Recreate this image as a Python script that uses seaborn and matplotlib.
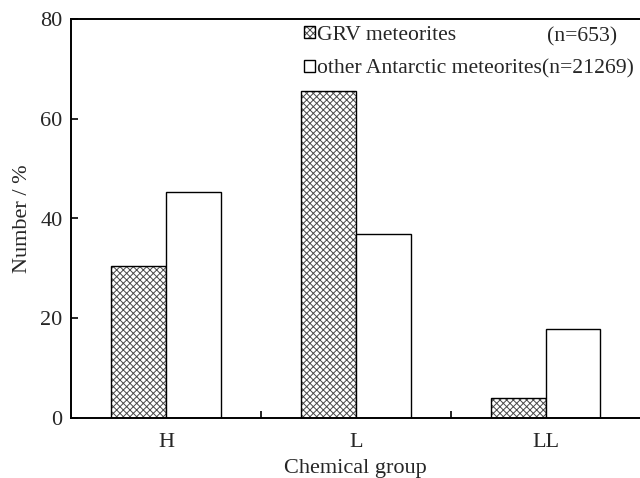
import matplotlib
matplotlib.use("Agg")
import matplotlib.pyplot as plt
import matplotlib.colors as mcolors
from matplotlib.patches import Patch
from matplotlib.ticker import FixedLocator
import seaborn as sns
import pandas as pd

groups = ["H", "L", "LL"]
series = ["GRV meteorites", "other Antarctic meteorites(n=21269)"]
grv_values = [30.5, 65.5, 4.1]
other_values = [45.3, 36.9, 17.8]
yticks = [0, 20, 40, 60, 80]

df = pd.DataFrame({
    "group": groups * 2,
    "series": [series[0]] * 3 + [series[1]] * 3,
    "value": grv_values + other_values,
})

FS = 16
LFS = 15.6
sns.set_theme(style="ticks")
plt.rcParams["font.family"] = ["Liberation Serif", "DejaVu Serif"]
plt.rcParams["hatch.linewidth"] = 0.7
plt.rcParams["font.size"] = FS

fig = plt.figure(figsize=(6.4, 4.78), dpi=100)
ax = fig.add_axes([71 / 640, 1 - 418 / 478, 1 - 71 / 640, (418 - 19) / 478])

sns.barplot(data=df, x="group", y="value", hue="series", order=groups,
            hue_order=series, palette=["white", "white"], edgecolor="black",
            linewidth=1.0, width=0.574, saturation=1, legend=False, ax=ax)

hatch_col = mcolors.to_rgba("#4a4a4a")
HATCH = "xxxxx"
for bar in ax.containers[0]:
    bar.set_hatch(HATCH)
    try:
        bar.set_hatchcolor(hatch_col)
    except AttributeError:
        bar._hatch_color = hatch_col

ax.set_xlim(-0.5, 2.495)
ax.set_ylim(0, 80)
ax.set_yticks(yticks)
ax.set_yticklabels([str(v) for v in yticks])
ax.xaxis.set_minor_locator(FixedLocator([0.5, 1.5]))
ax.tick_params(axis="x", which="major", length=0, pad=11, labelsize=FS)
ax.tick_params(axis="x", which="minor", direction="in", length=5, width=1.2, color="black")
ax.tick_params(axis="y", direction="in", length=5, width=1.2, pad=6, labelsize=FS, color="black")
for s in ["left", "bottom", "top"]:
    ax.spines[s].set_linewidth(1.4)
    ax.spines[s].set_color("black")
ax.spines["right"].set_visible(False)

ax.set_xlabel("Chemical group", fontsize=FS, labelpad=5)
ax.set_ylabel("Number / %", fontsize=FS, labelpad=6)

h1 = Patch(facecolor="white", edgecolor="black", hatch=HATCH, linewidth=1.0)
try:
    h1.set_hatchcolor(hatch_col)
except AttributeError:
    h1._hatch_color = hatch_col
h2 = Patch(facecolor="white", edgecolor="black", linewidth=1.0)
fig.legend(handles=[h1, h2], labels=series, loc="upper left",
           bbox_to_anchor=(304 / 640, 1 - 26 / 478), frameon=False,
           borderpad=0, borderaxespad=0, handlelength=0.5, handleheight=0.5,
           handletextpad=0.12, labelspacing=0.66, fontsize=LFS)
fig.text(547 / 640, 1 - 37 / 478, "(n=653)", ha="left", va="center", fontsize=LFS)

fig.savefig("out.png", dpi=100)
